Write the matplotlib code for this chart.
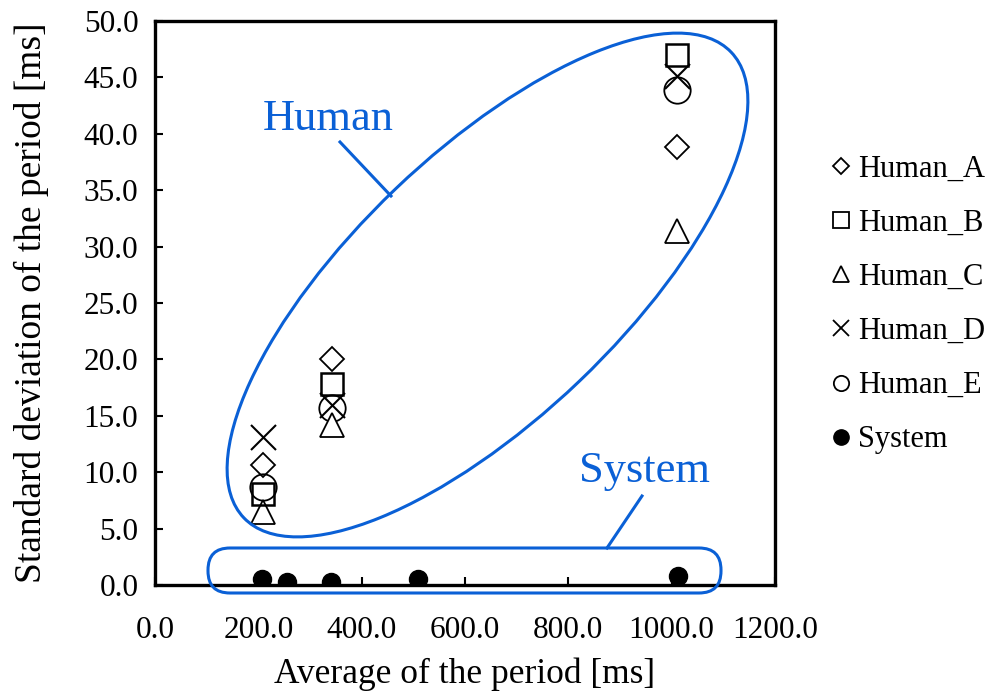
import matplotlib
matplotlib.use("Agg")
import matplotlib.pyplot as plt
from matplotlib.patches import Ellipse, FancyBboxPatch
from matplotlib.lines import Line2D
from matplotlib.transforms import IdentityTransform
from matplotlib.ticker import FormatStrFormatter, MultipleLocator

# ---- data ----
human_x = [209, 343, 1010]
human_a = [10.6, 20.0, 38.8]
human_b = [8.1, 17.8, 47.0]
human_c = [6.5, 14.2, 31.4]
human_d = [13.1, 16.0, 45.1]
human_e = [8.7, 15.7, 43.9]
system_x = [207, 255, 341, 509, 1012]
system_y = [0.5, 0.3, 0.3, 0.5, 0.8]

series_names = ["Human_A", "Human_B", "Human_C", "Human_D", "Human_E", "System"]

plt.rcParams['font.family'] = ['Liberation Serif', 'DejaVu Serif']

W, H = 990, 694
fig = plt.figure(figsize=(W / 100, H / 100), dpi=100)
ax = fig.add_axes([155 / W, 1 - 585 / H, (775 - 155) / W, (585 - 21) / H])

blue = "#0A60D6"
ec = "black"

ax.plot(human_x, human_a, linestyle='none', marker='D', ms=12.5, mfc='white', mec=ec, mew=1.3, zorder=3)
ax.plot(human_x, human_e, linestyle='none', marker='o', ms=19, mfc='none', mec=ec, mew=1.3, zorder=3)
ax.plot(human_x, human_d, linestyle='none', marker='x', ms=18, mec=ec, mew=1.5, zorder=3)
ax.plot(human_x, human_c, linestyle='none', marker='^', ms=17, mfc='white', mec=ec, mew=1.3, zorder=3)
ax.plot(human_x, human_b, linestyle='none', marker='s', ms=16, mfc='none', mec=ec, mew=1.8, zorder=4)
ax.plot(system_x, system_y, linestyle='none', marker='o', ms=13, mfc='black', mec='black', zorder=3)

ax.set_xlim(0, 1200)
ax.set_ylim(0, 50)
ax.xaxis.set_major_locator(MultipleLocator(200))
ax.yaxis.set_major_locator(MultipleLocator(5))
ax.xaxis.set_major_formatter(FormatStrFormatter('%.1f'))
ax.yaxis.set_major_formatter(FormatStrFormatter('%.1f'))
ax.tick_params(axis='both', direction='in', length=6, width=1.5, labelsize=22.5, colors='black')
ax.tick_params(axis='y', pad=12)
ax.tick_params(axis='x', pad=22)
for s in ax.spines.values():
    s.set_linewidth(2.4)
    s.set_color('black')

ax.set_xlabel("Average of the period [ms]", fontsize=25.5, labelpad=9)
ax.set_ylabel("Standard deviation of the period [ms]", fontsize=27, labelpad=25)

# ---- annotations (display pixel coords) ----
def disp(x, y):
    return (x, H - y)

ell = Ellipse(disp(487.5, 285), 674, 266, angle=43.7, fill=False, edgecolor=blue,
              linewidth=2.2, transform=IdentityTransform(), zorder=5)
fig.add_artist(ell)

x0, y0 = disp(208, 593)
box = FancyBboxPatch((x0, y0), 721 - 208, 593 - 548,
                     boxstyle="round,pad=0,rounding_size=22", fill=False,
                     edgecolor=blue, linewidth=2.2, transform=IdentityTransform(), zorder=5)
fig.add_artist(box)

for (p, q) in [((340, 142), (391, 196)), ((642, 496), (607, 548))]:
    a, b = disp(*p), disp(*q)
    fig.add_artist(Line2D([a[0], b[0]], [a[1], b[1]], color=blue, linewidth=2.2,
                          transform=IdentityTransform(), zorder=5))

fig.text(328 / W, 1 - 119 / H, "Human", color=blue, fontsize=32, ha='center', va='center')
fig.text(644 / W, 1 - 471 / H, "System", color=blue, fontsize=32, ha='center', va='center')

# ---- legend ----
handles = [
    Line2D([], [], linestyle='none', marker='D', ms=8, mfc='white', mec=ec, mew=1.3),
    Line2D([], [], linestyle='none', marker='s', ms=11, mfc='white', mec=ec, mew=1.3),
    Line2D([], [], linestyle='none', marker='^', ms=11, mfc='white', mec=ec, mew=1.3),
    Line2D([], [], linestyle='none', marker='x', ms=11, mec=ec, mew=1.3),
    Line2D([], [], linestyle='none', marker='o', ms=11, mfc='white', mec=ec, mew=1.3),
    Line2D([], [], linestyle='none', marker='o', ms=11, mfc='black', mec='black'),
]
fig.legend(handles, series_names, loc='upper left', bbox_to_anchor=(832 / W, 1 - 155 / H),
           frameon=False, fontsize=22, handlelength=0.6, handletextpad=0.25,
           labelspacing=0.82, borderpad=0, borderaxespad=0)

fig.savefig("out.png", dpi=100)
